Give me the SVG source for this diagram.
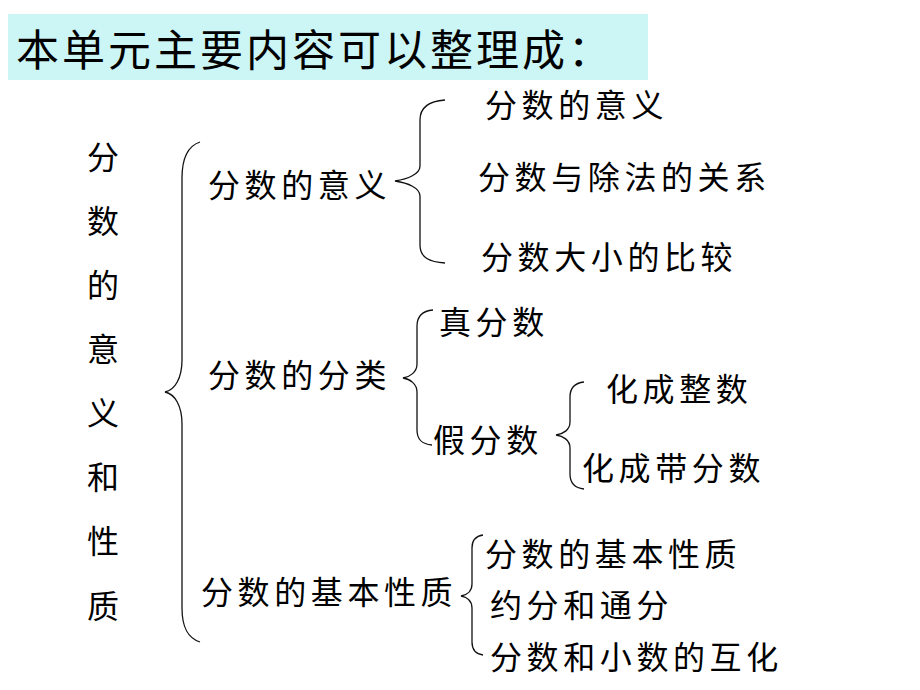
<svg xmlns="http://www.w3.org/2000/svg" width="920" height="690" viewBox="0 0 920 690">
<style>
.t{font-family:"Noto Sans CJK SC","Noto Sans CJK TC",sans-serif;font-size:32px;fill:#000;letter-spacing:4.6px}
.v{font-family:"Noto Sans CJK SC","Noto Sans CJK TC",sans-serif;font-size:32px;fill:#000;text-anchor:middle}
.title{font-family:"Noto Sans CJK SC","Noto Sans CJK TC",sans-serif;font-size:43px;fill:#000;letter-spacing:3px}
.br{fill:none;stroke:#111;stroke-width:1.3}
</style>
<rect x="0" y="0" width="920" height="690" fill="#fff"/>
<g id="header">
<rect x="8" y="14" width="640" height="66" fill="#ccf5f6"/>
<text class="title" x="16" y="66">本单元主要内容可以整理成：</text>
</g>
<g id="root">
<text class="v" x="103" y="169">分</text>
<text class="v" x="103" y="233">数</text>
<text class="v" x="103" y="297">的</text>
<text class="v" x="103" y="361">意</text>
<text class="v" x="103" y="425">义</text>
<text class="v" x="103" y="489">和</text>
<text class="v" x="103" y="553">性</text>
<text class="v" x="103" y="618">质</text>
</g>
<g id="meaning"><text class="t" x="208" y="197">分数的意义</text></g>
<g id="classify"><text class="t" x="208" y="387">分数的分类</text></g>
<g id="property"><text class="t" x="201" y="604">分数的基本性质</text></g>
<g id="meaning-1"><text class="t" x="485" y="117">分数的意义</text></g>
<g id="meaning-2"><text class="t" x="478" y="189">分数与除法的关系</text></g>
<g id="meaning-3"><text class="t" x="481" y="269">分数大小的比较</text></g>
<g id="proper"><text class="t" x="439" y="334">真分数</text></g>
<g id="improper"><text class="t" x="433" y="452">假分数</text></g>
<g id="to-integer"><text class="t" x="606" y="401">化成整数</text></g>
<g id="to-mixed"><text class="t" x="582" y="480">化成带分数</text></g>
<g id="property-1"><text class="t" x="485" y="566">分数的基本性质</text></g>
<g id="property-2"><text class="t" x="490" y="617">约分和通分</text></g>
<g id="property-3"><text class="t" x="490" y="669">分数和小数的互化</text></g>
<g id="connectors">
<path class="br" d="M200,142 C188,146 182,158 182,178 L182,360 C182,378 175,390 165,392 C175,394 182,406 182,424 L182,608 C182,628 188,638 200,642"/>
<path class="br" d="M445,100 C430,101 420,106 420,120 L420,166 C420,174 408,179 395,181 C408,183 420,188 420,196 L420,245 C420,258 430,262 445,263"/>
<path class="br" d="M433,310 C422,311 417,316 417,326 L417,364 C417,372 410,377 403,378 C410,379 417,384 417,392 L417,430 C417,440 422,444 432,445"/>
<path class="br" d="M584,382 C575,383 570,388 570,397 L570,422 C570,430 563,434 556,435 C563,436 570,440 570,448 L570,474 C570,484 575,488 584,489"/>
<path class="br" d="M483,535 C476,536 472,540 472,548 L472,584 C472,591 467,595 461,596 C467,597 472,601 472,608 L472,642 C472,650 476,654 483,655"/>
</g>
</svg>
